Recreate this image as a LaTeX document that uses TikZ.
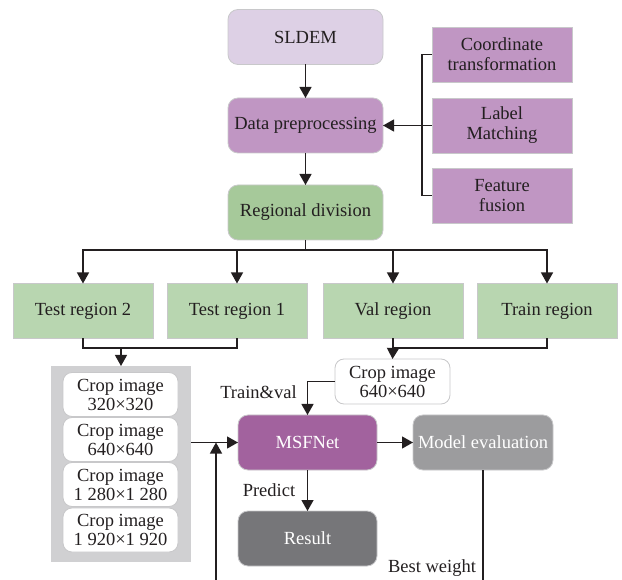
\documentclass[tikz,border=0pt]{standalone}
\usepackage{fontspec}
\setmainfont{Liberation Serif}
\usetikzlibrary{arrows.meta}
\definecolor{txt}{HTML}{231F20}
\definecolor{sldemc}{HTML}{DDD0E5}
\definecolor{purp}{HTML}{C096C3}
\definecolor{greend}{HTML}{A6C99A}
\definecolor{greenl}{HTML}{B8D6B0}
\definecolor{panelc}{HTML}{D0D0D2}
\definecolor{msfc}{HTML}{A2629E}
\definecolor{evalc}{HTML}{9C9C9E}
\definecolor{resc}{HTML}{767679}
\definecolor{bord}{HTML}{C8C8CA}
\begin{document}
\begin{tikzpicture}[x=1pt,y=-1pt,
  font=\fontsize{18.5}{20}\selectfont,
  every node/.style={inner sep=0pt,outer sep=0pt,text=txt,align=center},
  base/.style={draw=bord,line width=0.8pt,minimum height=55pt},
  rbox/.style={base,rounded corners=10pt,minimum width=155pt},
  sbox/.style={base,minimum width=140pt},
  cbox/.style={draw=bord,line width=0.8pt,fill=white,rounded corners=9pt,minimum width=115pt,minimum height=44pt,font=\fontsize{18.5}{19}\selectfont},
  mbox/.style={base,rounded corners=10pt,minimum width=139pt,text=white},
  conn/.style={line width=1.3pt,draw=txt},
  arr/.style={conn,-{Triangle[length=11pt,width=12pt]}},
  lbl/.style={text=txt}]
\useasboundingbox (0,0) rectangle (622,580);
% top column
\node[rbox,fill=sldemc] (sldem) at (305.5,37) {SLDEM};
\node[rbox,fill=purp] (prep) at (305.5,125.5) {Data preprocessing};
\node[rbox,fill=greend] (regdiv) at (305.5,212.5) {Regional division};
% right boxes
\node[sbox,fill=purp] (coord) at (502,54.5) {Coordinate\\transformation};
\node[sbox,fill=purp] (labm) at (502,125.5) {Label\\Matching};
\node[sbox,fill=purp] (feat) at (502,195.5) {Feature\\fusion};
\coordinate (bx1) at (422,54.5);
\coordinate (bx2) at (422,195.5);
\draw[conn] (coord.west) -- (bx1) -- (bx2) -- (feat.west);
\draw[arr] (labm.west) -- (prep.east);
\draw[arr] (sldem.south) -- (prep.north);
\draw[arr] (prep.south) -- (regdiv.north);
% regions
\node[sbox,fill=greenl] (t2) at (83,311) {Test region 2};
\node[sbox,fill=greenl] (t1) at (237,311) {Test region 1};
\node[sbox,fill=greenl] (val) at (393,311) {Val region};
\node[sbox,fill=greenl] (train) at (547,311) {Train region};
\coordinate (hb) at (305.5,250);
\draw[conn] (regdiv.south) -- (hb);
\draw[arr] (hb) -| (t2.north);
\draw[arr] (hb) -| (t1.north);
\draw[arr] (hb) -| (val.north);
\draw[arr] (hb) -| (train.north);
% left panel
\node[fill=panelc,minimum width=140pt,minimum height=196pt] (panel) at (121,464) {};
\node[cbox] (c1) at (120.5,394.5) {Crop image\\320×320};
\node[cbox] (c2) at (120.5,439.5) {Crop image\\640×640};
\node[cbox] (c3) at (120.5,484.5) {Crop image\\1 280×1 280};
\node[cbox] (c4) at (120.5,530) {Crop image\\1 920×1 920};
\coordinate (lb) at (121,348);
\draw[conn] (t2.south) |- (lb) -| (t1.south);
\draw[arr] (lb) -- (panel.north);
% val crop
\node[cbox,minimum height=45pt] (cropv) at (392.5,381.5) {Crop image\\640×640};
\coordinate (rb) at (393,348);
\draw[conn] (val.south) -- (rb) -| (train.south);
\draw[arr] (rb) -- (cropv.north);
% MSFNet etc
\node[mbox,fill=msfc] (msf) at (307.5,442.5) {MSFNet};
\node[mbox,fill=resc] (res) at (307.5,538.5) {Result};
\node[mbox,fill=evalc,minimum width=140pt] (eval) at (483,442.5) {Model evaluation};
\draw[arr] (panel.east |- msf.west) -- (msf.west);
\coordinate (bot1) at (216,580);
\draw[arr] (bot1) -- (bot1 |- msf.west);
\draw[arr] (cropv.west) -| (msf.north);
\draw[arr] (msf.east) -- (eval.west);
\draw[arr] (msf.south) -- (res.north);
\coordinate (bot2) at (483,580);
\draw[conn] (eval.south) -- (bot2);
% labels
\node[lbl] (ltv) at (258.5,392) {Train\&val};
\node[lbl] (lpr) at (269,490) {Predict};
\node[lbl] (lbw) at (432,568) {Best weight};
\end{tikzpicture}
\end{document}
